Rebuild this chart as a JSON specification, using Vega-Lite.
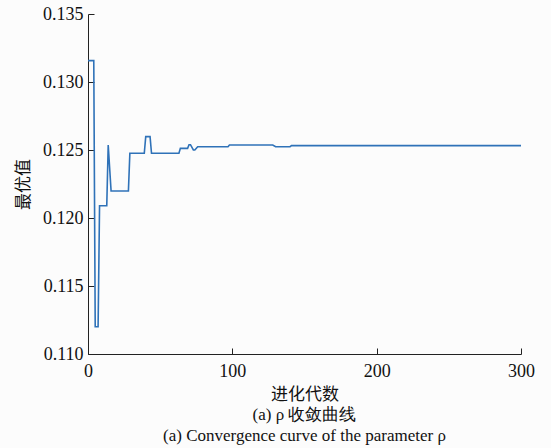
{
  "$schema": "https://vega.github.io/schema/vega-lite/v6.json",
  "width": 433,
  "height": 340,
  "autosize": "none",
  "padding": {"left": 88, "top": 14, "right": 30, "bottom": 94},
  "background": "#fcfcfc",
  "config": {
    "view": {"stroke": null},
    "font": "Liberation Serif",
    "axis": {"labelFont": "Liberation Serif, serif", "titleFont": "Noto Sans CJK SC"}
  },
  "title": {
    "text": ["(a) ρ 收敛曲线", "(a) Convergence curve of the parameter ρ"],
    "orient": "bottom",
    "anchor": "middle",
    "font": "Liberation Serif",
    "fontSize": 17,
    "fontWeight": "normal",
    "color": "#111",
    "lineHeight": 21,
    "offset": 5
  },
  "data": {
    "values": [
      {"gen": 0, "best": 0.13157},
      {"gen": 4, "best": 0.13157},
      {"gen": 5, "best": 0.1120},
      {"gen": 7, "best": 0.1120},
      {"gen": 8, "best": 0.1209},
      {"gen": 13, "best": 0.1209},
      {"gen": 14, "best": 0.12537},
      {"gen": 16, "best": 0.12199},
      {"gen": 28, "best": 0.12199},
      {"gen": 29, "best": 0.12476},
      {"gen": 39, "best": 0.12476},
      {"gen": 40, "best": 0.12598},
      {"gen": 43, "best": 0.12598},
      {"gen": 44, "best": 0.12476},
      {"gen": 63, "best": 0.12476},
      {"gen": 64, "best": 0.12512},
      {"gen": 69, "best": 0.12512},
      {"gen": 70, "best": 0.12539},
      {"gen": 71, "best": 0.12539},
      {"gen": 73, "best": 0.1250},
      {"gen": 74, "best": 0.1250},
      {"gen": 76, "best": 0.12524},
      {"gen": 97, "best": 0.12524},
      {"gen": 98, "best": 0.12537},
      {"gen": 128, "best": 0.12537},
      {"gen": 130, "best": 0.12524},
      {"gen": 140, "best": 0.12524},
      {"gen": 141, "best": 0.12532},
      {"gen": 300, "best": 0.12532}
    ]
  },
  "mark": {"type": "line", "color": "#2f72b8", "strokeWidth": 1.6, "clip": true},
  "encoding": {
    "x": {
      "field": "gen",
      "type": "quantitative",
      "scale": {"domain": [0, 300], "nice": false, "zero": false},
      "axis": {
        "title": "进化代数",
        "values": [0, 100, 200, 300],
        "grid": false,
        "domainColor": "#222",
        "tickColor": "#222",
        "tickSize": -6,
        "labelPadding": 14,
        "labelFlush": false,
        "labelFont": "Liberation Serif, serif",
        "labelFontSize": 18,
        "labelColor": "#111",
        "titleFont": "Noto Sans CJK SC",
        "titleFontSize": 17,
        "titleFontWeight": "normal",
        "titleColor": "#111",
        "titlePadding": 6
      }
    },
    "y": {
      "field": "best",
      "type": "quantitative",
      "scale": {"domain": [0.110, 0.135], "nice": false, "zero": false},
      "axis": {
        "title": "最优值",
        "values": [0.110, 0.115, 0.120, 0.125, 0.130, 0.135],
        "format": ".3f",
        "grid": false,
        "domainColor": "#222",
        "tickColor": "#222",
        "tickSize": -6,
        "labelPadding": 11,
        "labelFlush": false,
        "labelFont": "Liberation Serif, serif",
        "labelFontSize": 18,
        "labelColor": "#111",
        "titleFont": "Noto Sans CJK SC",
        "titleFontSize": 17,
        "titleFontWeight": "normal",
        "titleColor": "#111",
        "titlePadding": 10
      }
    }
  }
}
